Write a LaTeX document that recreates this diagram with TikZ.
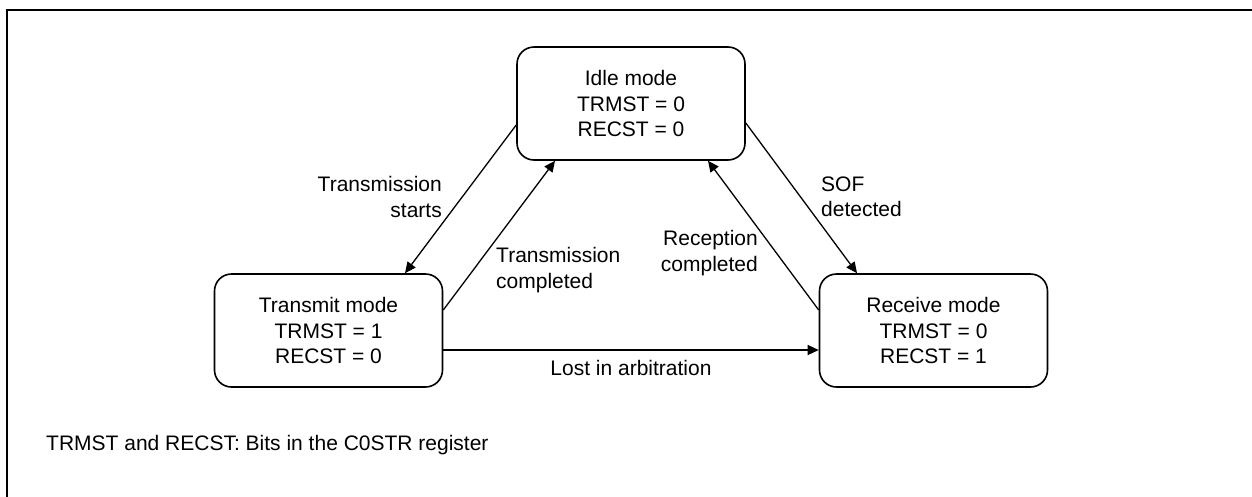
\documentclass[tikz,border=0pt]{standalone}
\usepackage{fontspec}
\setmainfont{Liberation Sans}
\usetikzlibrary{arrows.meta,calc}
\tikzset{
  lbl/.style={font=\fontsize{21}{25.5}\selectfont, inner sep=0pt},
  statebox/.style={draw, line width=1.6pt, rounded corners=17pt, minimum width=228pt, minimum height=113pt, align=center, inner sep=0pt, font=\fontsize{21}{25.5}\selectfont},
  conn/.style={line width=1.3pt, -{Triangle[length=11pt,width=10pt]}}
}
\begin{document}
\begin{tikzpicture}[x=1pt,y=-1pt]
\useasboundingbox (0,0) rectangle (1252,496);
\draw[line width=2.5pt] (7,497) -- (7,10) -- (1253,10);
\node[statebox] (idle) at (631,103.5) {Idle mode\\TRMST = 0\\RECST = 0};
\node[statebox] (trans) at (328.5,330.5) {Transmit mode\\TRMST = 1\\RECST = 0};
\node[statebox] (recv) at (933.5,330.5) {Receive mode\\TRMST = 0\\RECST = 1};
\draw[conn] ($(idle.west)+(0,21.5)$) -- ($(trans.north)+(76.5,0)$);
\draw[conn] ($(trans.east)+(0,-20.5)$) -- ($(idle.south)+(-76,0)$);
\draw[conn] ($(idle.east)+(0,19.5)$) -- ($(recv.north)+(-76.5,0)$);
\draw[conn] ($(recv.west)+(0,-20.5)$) -- ($(idle.south)+(77,0)$);
\draw[conn] ($(trans.east)+(0,19.5)$) -- ($(recv.west)+(0,19.5)$);
\node[lbl, align=right, anchor=east] (l1) at (442,197) {Transmission\\starts};
\node[lbl, align=left, anchor=west] (l2) at (496,270) {Transmission\\completed};
\node[lbl, align=left, anchor=west] (l3) at (821,197) {SOF\\detected};
\node[lbl, align=right, anchor=east] (l4) at (758,253) {Reception\\completed};
\node[lbl, anchor=base] (l5) at (631,375) {Lost in arbitration};
\node[lbl, anchor=base west] (l6) at (46,450) {TRMST and RECST: Bits in the C0STR register};
\end{tikzpicture}
\end{document}
